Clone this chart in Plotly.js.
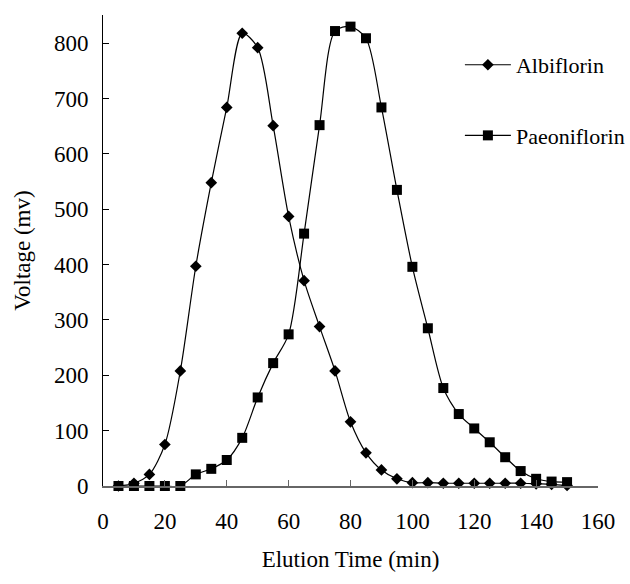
<!DOCTYPE html>
<html>
<head>
<meta charset="utf-8">
<script src="https://cdn.plot.ly/plotly-3.0.1.min.js"></script>
<style>html,body{margin:0;padding:0;background:#fff;}#chart{width:630px;height:584px;}</style>
</head>
<body>
<div id="chart"></div>
<script>
// Elution time (min)
var elutionTime = [5,10,15,20,25,30,35,40,45,50,55,60,65,70,75,80,85,90,95,100,105,110,115,120,125,130,135,140,145,150];
// Voltage (mv)
var albiflorin = [0,5,21,75,208,397,548,684,818,792,651,487,371,288,208,116,60,29,13,6,6,5,5,5,5,5,5,4,3,1];
var paeoniflorin = [0,0,0,0,0,21,31,47,87,160,222,274,456,652,822,830,809,684,535,396,285,177,130,104,79,52,27,13,8,7];
var seriesNames = ["Albiflorin", "Paeoniflorin"];
var xTicks = [0,20,40,60,80,100,120,140,160];
var yTicks = [0,100,200,300,400,500,600,700,800];

var FONT = "Liberation Serif";

var traces = [
  {
    x: elutionTime, y: albiflorin, name: seriesNames[0], type: "scatter", mode: "lines+markers",
    line: {color: "#000", width: 1.2, shape: "spline", smoothing: 0.8},
    marker: {symbol: "diamond", size: 9, color: "#000"},
    legendgroup: "a", cliponaxis: false
  },
  {
    x: elutionTime, y: paeoniflorin, name: seriesNames[1], type: "scatter", mode: "lines+markers",
    line: {color: "#000", width: 1.2, shape: "spline", smoothing: 0.8},
    marker: {symbol: "square", size: 10, color: "#000"},
    legendgroup: "b", cliponaxis: false
  }
];

var layout = {
  width: 630, height: 584,
  margin: {l: 103, r: 32, t: 15, b: 98, autoexpand: false},
  paper_bgcolor: "#fff", plot_bgcolor: "#fff",
  font: {family: FONT, size: 23, color: "#000"},
  showlegend: true,
  legend: {
    x: 0.721, y: 0.9385, xanchor: "left", yanchor: "top",
    bgcolor: "rgba(0,0,0,0)", borderwidth: 0,
    font: {family: FONT, size: 22, color: "#000"},
    traceorder: "grouped", tracegroupgap: 39, itemwidth: 46
  },
  xaxis: {
    range: [0, 160], tickvals: xTicks, ticktext: xTicks.map(String),
    showgrid: false, zeroline: false, showline: true, linecolor: "#666", linewidth: 1.5,
    ticks: "inside", ticklen: 6, tickcolor: "#666", tickwidth: 1,
    ticklabelstandoff: 14,
    title: {text: "Elution Time (min)", font: {family: FONT, size: 23}, standoff: 18}
  },
  yaxis: {
    range: [0, 851], tickvals: yTicks, ticktext: yTicks.map(String),
    showgrid: false, zeroline: false, showline: true, linecolor: "#000", linewidth: 1,
    ticks: "inside", ticklen: 6, tickcolor: "#000", tickwidth: 1,
    ticklabelstandoff: 9,
    title: {text: "Voltage (mv)", font: {family: FONT, size: 23}, standoff: 16}
  }
};

Plotly.newPlot("chart", traces, layout, {displayModeBar: false, staticPlot: true});
</script>
</body>
</html>
